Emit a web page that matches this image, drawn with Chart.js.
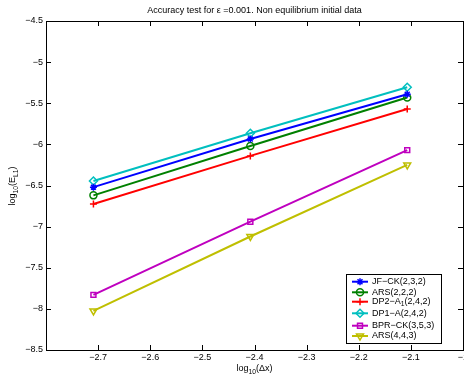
<!DOCTYPE html>
<html><head><meta charset="utf-8">
<script src="https://cdn.jsdelivr.net/npm/chart.js@4/dist/chart.umd.min.js"></script>
<style>html,body{margin:0;padding:0;overflow:hidden;background:#fff}#wrap{width:480px;height:376px}</style>
</head><body><div id="wrap"><canvas id="c"></canvas></div>
<script>
const dx = [-2.709, -2.408, -2.107];
const jfck = [-6.52, -5.935, -5.39];
const ars222 = [-6.62, -6.02, -5.43];
const dp2 = [-6.725, -6.14, -5.57];
const dp1 = [-6.445, -5.865, -5.305];
const bpr = [-7.83, -6.94, -6.07];
const ars443 = [-8.025, -7.12, -6.25];
const names = ['JF\u2212CK(2,3,2)','ARS(2,2,2)','DP2\u2212A|1|(2,4,2)','DP1\u2212A(2,4,2)','BPR\u2212CK(3,5,3)','ARS(4,4,3)'];
const colors = ['#0000ff','#008000','#ff0000','#00bfbf','#bf00bf','#bfbf00'];
const styles = ['star','circle','cross','rectRot','rect','triangle'];
const rots = [0,0,0,0,0,180];
const radii = [3.5,3.5,3.5,4,3.5,4];
const series = [jfck, ars222, dp2, dp1, bpr, ars443];
const FONT = '"Liberation Sans", Arial, Helvetica, sans-serif';

const datasets = series.map((s,i)=>({
  label: names[i],
  data: dx.map((x,j)=>({x:x,y:s[j]})),
  borderColor: colors[i], backgroundColor:'rgba(0,0,0,0)', pointBorderColor: colors[i],
  borderWidth: 2, pointStyle: styles[i], pointRotation: rots[i], pointRadius: radii[i],
  pointBorderWidth: 1.5, tension: 0
}));

function fmt(v){ const r = Math.round(v*10)/10; return String(r).replace('-', '\u2212'); }

function drawSub(ctx, str, x, y, size, align){
  const parts = str.split('|');
  const subSize = size*0.75;
  let w = 0;
  parts.forEach((p,i)=>{ ctx.font = (i%2? subSize: size)+'px '+FONT; w += ctx.measureText(p).width; });
  let cx = align==='center'? x - w/2 : x;
  ctx.textAlign = 'left'; ctx.textBaseline = 'middle';
  parts.forEach((p,i)=>{
    const sub = i%2===1;
    ctx.font = (sub? subSize: size)+'px '+FONT;
    ctx.fillText(p, cx, sub? y+size*0.3 : y);
    cx += ctx.measureText(p).width;
  });
}

const deco = {
  id:'deco',
  afterDraw(chart){
    const ctx = chart.ctx, a = chart.chartArea;
    const xs = chart.scales.x, ys = chart.scales.y;
    ctx.save();
    ctx.strokeStyle = '#000'; ctx.lineWidth = 1;
    ctx.strokeRect(Math.round(a.left)+0.5, Math.round(a.top)+0.5, Math.round(a.right-a.left), Math.round(a.bottom-a.top));
    const L = 5;
    ctx.beginPath();
    xs.ticks.forEach(t=>{ const px = Math.round(xs.getPixelForValue(t.value))+0.5;
      ctx.moveTo(px,a.bottom); ctx.lineTo(px,a.bottom-L); ctx.moveTo(px,a.top); ctx.lineTo(px,a.top+L); });
    ys.ticks.forEach(t=>{ const py = Math.round(ys.getPixelForValue(t.value))+0.5;
      ctx.moveTo(a.left,py); ctx.lineTo(a.left+L,py); ctx.moveTo(a.right,py); ctx.lineTo(a.right-L,py); });
    ctx.stroke();
    ctx.fillStyle = '#000';
    ctx.font = '9px '+FONT; ctx.textAlign='center'; ctx.textBaseline='middle';
    ctx.fillText('Accuracy test for \u03b5 =0.001. Non equilibrium initial data', (a.left+a.right)/2, 11);
    drawSub(ctx, 'log|10|(\u0394x)', (a.left+a.right)/2, 369, 9, 'center');
    ctx.save(); ctx.translate(13, 186); ctx.rotate(-Math.PI/2);
    drawSub(ctx, 'log|10|(E|L1|)', 0, 0, 9, 'center');
    ctx.restore();
    const bx=346, by=274, bw=95, bh=69;
    ctx.fillStyle='#fff'; ctx.fillRect(bx,by,bw,bh);
    ctx.strokeStyle='#000'; ctx.lineWidth=1; ctx.strokeRect(bx+0.5,by+0.5,bw,bh);
    const rows=[281.7,292.3,301.7,313.3,325.7,336];
    names.forEach((n,i)=>{
      const y=rows[i];
      ctx.strokeStyle=colors[i]; ctx.lineWidth=2;
      ctx.beginPath(); ctx.moveTo(352,y); ctx.lineTo(368,y); ctx.stroke();
      ctx.lineWidth=1.5; ctx.fillStyle='rgba(0,0,0,0)';
      Chart.helpers.drawPoint(ctx,{pointStyle:styles[i],rotation:rots[i],radius:radii[i],borderWidth:1.5},360,y);
      ctx.fillStyle='#000';
      drawSub(ctx, n, 372, y, 9, 'left');
    });
    ctx.restore();
  }
};

new Chart(document.getElementById('c'), {
  type:'line',
  data:{datasets},
  options:{
    responsive:true, maintainAspectRatio:false, animation:false,
    layout:{padding:{left:0,top:21,right:17,bottom:0}},
    plugins:{legend:{display:false},title:{display:false},tooltip:{enabled:false}},
    scales:{
      x:{type:'linear',min:-2.8,max:-2.0,
        ticks:{stepSize:0.1,color:'#000',font:{size:9,family:FONT},padding:2,maxRotation:0,autoSkip:false,
          callback:(v)=> Math.abs(v+2.8)<1e-6 ? '' : fmt(v)},
        grid:{display:false,drawTicks:false}, border:{display:false},
        afterFit(s){ s.height = 26; }
      },
      y:{type:'linear',min:-8.5,max:-4.5,
        ticks:{stepSize:0.5,color:'#000',font:{size:9,family:FONT},padding:3,autoSkip:false,
          callback:(v)=>fmt(v)},
        grid:{display:false,drawTicks:false}, border:{display:false},
        afterFit(s){ s.width = 46; }
      }
    }
  },
  plugins:[deco]
});
</script></body></html>
